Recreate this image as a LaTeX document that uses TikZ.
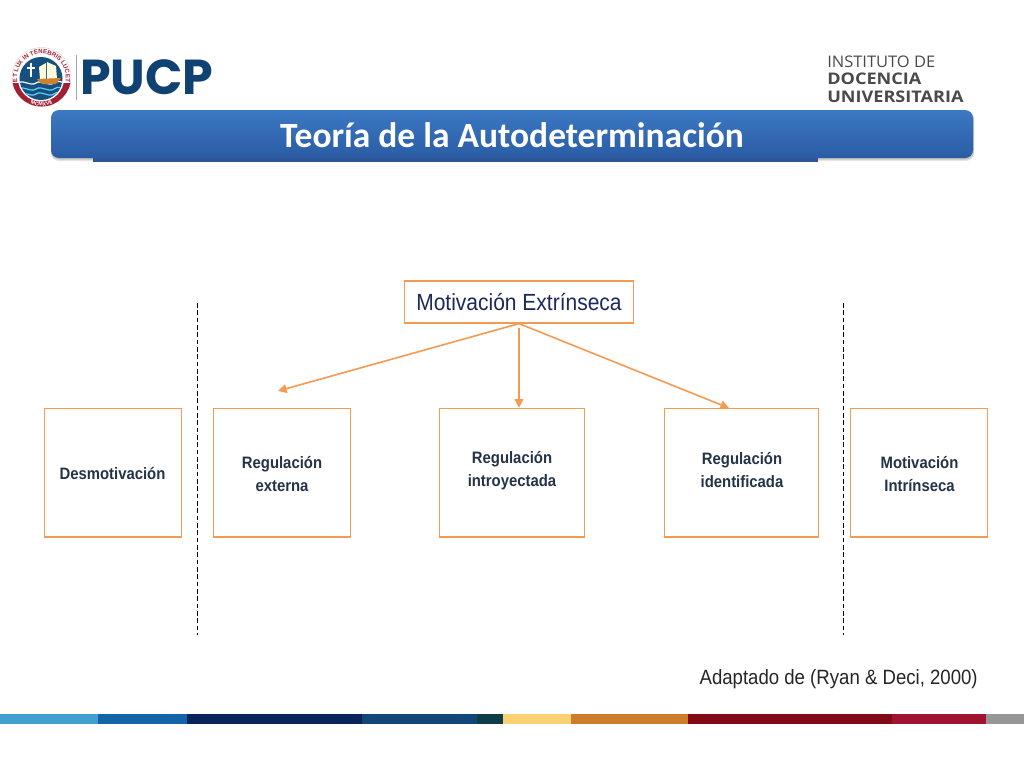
\documentclass[tikz,border=0pt]{standalone}
\usepackage{fontspec}
\usetikzlibrary{arrows.meta,decorations.text}
\setmainfont{Liberation Sans}
\newfontfamily\narrowf[FakeStretch=0.9]{Liberation Sans}
\newfontfamily\titlef{Carlito}
\newfontfamily\instf[FakeStretch=1.03]{Open Sans}
\newfontfamily\instbf[FakeStretch=1.13]{Open Sans}
\newfontfamily\logof{Poppins}
\definecolor{orangeline}{HTML}{F59A52}
\definecolor{navytext}{HTML}{1B2A5A}
\definecolor{labeltext}{HTML}{243347}
\definecolor{pucpblue}{HTML}{0F4273}
\definecolor{sealblue}{HTML}{15507F}
\definecolor{sealred}{HTML}{A31F34}
\definecolor{insttext}{HTML}{4A4A4A}
\definecolor{bartop}{HTML}{3C78C4}
\definecolor{barbot}{HTML}{2A5CA3}
\definecolor{underbar}{HTML}{2F5597}
\tikzset{
  px/.style={x=0.75pt,y=-0.75pt},
  stagebox/.style={draw=orangeline,line width=0.85pt,fill=white,inner sep=0pt},
  stagelabel/.style={inner sep=0pt,align=center,text=labeltext,font=\narrowf\bfseries\fontsize{12.4}{16.9}\selectfont},
  headbox/.style={draw=orangeline,line width=0.9pt,fill=white,inner sep=0pt,text=navytext,font=\narrowf\fontsize{17.5}{20}\selectfont},
  link/.style={draw=orangeline,line width=1.2pt,-{Triangle[length=6.5pt,width=6.5pt]}},
  divider/.style={draw=black,line width=0.6pt,dash pattern=on 3.5pt off 2pt},
}
\begin{document}
\begin{tikzpicture}[px]
\useasboundingbox (0,0) rectangle (1024,768);
\fill[white] (0,0) rectangle (1024,768);
% seal
\fill[white,draw=sealred!25,line width=0.3pt] (41.5,77) circle (29.5);
\begin{scope}
\clip (10,83) rectangle (73,110);
\fill[sealred] (41.5,77) circle (29.5);
\end{scope}
\fill[white] (41,78.5) circle (23);
\fill[sealblue] (41,78.5) circle (21.5);
\begin{scope}
\clip (41,78.5) circle (21.5);
\draw[white,line width=0.9pt] (18,83) .. controls (24,79) and (30,87) .. (36,83) .. controls (42,79) and (48,87) .. (54,83) .. controls (58,80) and (60,82) .. (66,83);
\draw[cyan!60!white,line width=0.9pt] (18,89) .. controls (24,85) and (30,93) .. (36,89) .. controls (42,85) and (48,93) .. (54,89) .. controls (58,86) and (60,88) .. (66,89);
\draw[cyan!60!white,line width=0.9pt] (18,94) .. controls (24,90) and (30,98) .. (36,94) .. controls (42,90) and (48,98) .. (54,94) .. controls (58,91) and (60,93) .. (66,94);
\end{scope}
\fill[white!85!yellow] (47,62) -- (56,66) -- (57,79) -- (47,79) -- cycle;
\fill[white!85!yellow] (39,67) -- (46,63) -- (46,79) -- (40,79) -- cycle;
\fill[brown!75!orange] (37,79) -- (61,78) -- (56,84) -- (42,84) -- cycle;
\draw[white,line width=0.9pt] (31,63) -- (31,77) (27,68) -- (35,68);
\begin{scope}[shift={(41.5,78)},x=0.75pt,y=0.75pt]
\path[decorate,decoration={text along path,text align=center,text={|\fontsize{4.6}{6}\selectfont\color{sealred}\bfseries|ET LUX IN TENEBRIS LUCET}}]
  (205:24.3) arc[start angle=205,end angle=-25,radius=24.3];
\path[decorate,decoration={text along path,text align=center,reverse path,text={|\fontsize{4}{5}\selectfont\color{white}\bfseries|MCMXVII}}]
  (-30:28) arc[start angle=-30,end angle=-150,radius=28];
\end{scope}
\draw[gray!70,line width=0.6pt] (76,55) -- (76,100);
\node[anchor=west,inner sep=0pt,text=pucpblue,font=\logof\bfseries\fontsize{36.8}{38}\selectfont] (pucp) at (80,77) {PUCP};
% institute
\node[anchor=west,inner sep=0pt,text=insttext,font=\instf\fontsize{12}{12}\selectfont] (inst1) at (827,61.5) {INSTITUTO DE};
\node[anchor=west,inner sep=0pt,text=insttext,font=\instbf\bfseries\fontsize{12}{12}\selectfont] (inst2) at (827,79) {DOCENCIA};
\node[anchor=west,inner sep=0pt,text=insttext,font=\instbf\bfseries\fontsize{12}{12}\selectfont] (inst3) at (827,97) {UNIVERSITARIA};
% title
\fill[black,opacity=0.10,rounded corners=6pt] (51,112) rectangle (974,161);
\fill[black,opacity=0.15,rounded corners=6pt] (51,111) rectangle (974,159.5);
\fill[underbar] (93,150) rectangle (818,162);
\path[rounded corners=6pt,top color=bartop,bottom color=barbot] (51,110) rectangle (973,158);
\node[text=white,font=\titlef\bfseries\fontsize{26.6}{28}\selectfont,inner sep=0pt] (title) at (512,135) {Teoría de la Autodeterminación};
% dividers
\coordinate (d1t) at (197.5,303); \coordinate (d1b) at (197.5,635);
\coordinate (d2t) at (843,303); \coordinate (d2b) at (843,635);
\draw[divider] (d1t) -- (d1b);
\draw[divider] (d2t) -- (d2b);
% boxes
\node[headbox,minimum width=171.5pt,minimum height=31.5pt] (me) at (519,302) {Motivación Extrínseca};
\node[stagebox,minimum width=103pt,minimum height=96.5pt] (des) at (113,472.7) {};
\node[stagebox,minimum width=103pt,minimum height=96.5pt] (rext) at (282,472.7) {};
\node[stagebox,minimum width=109pt,minimum height=96.5pt] (rint) at (512,472.7) {};
\node[stagebox,minimum width=115pt,minimum height=96.5pt] (rid) at (741.5,472.7) {};
\node[stagebox,minimum width=103pt,minimum height=96.5pt] (mint) at (919,472.7) {};
\node[stagelabel] (ldes) at (112.5,474) {Desmotivación};
\node[stagelabel] (lrext) at (282,474) {Regulación\\externa};
\node[stagelabel] (lrint) at (512,470.5) {Regulación\\introyectada};
\node[stagelabel] (lrid) at (742,470) {Regulación\\identificada};
\node[stagelabel] (lmint) at (919.5,474) {Motivación\hspace{7pt}\\Intrínseca};
% connectors
\coordinate (a1) at (278,391);
\coordinate (a3) at (729,408);
\draw[link] (me.south) -- (a1);
\draw[link,shorten <=3.5pt] (me.south) -- (rint.north -| me.south);
\draw[link] (me.south) -- (a3);
% footer text
\node[anchor=east,inner sep=0pt,text=black!85,font=\narrowf\fontsize{15.5}{18}\selectfont] (src) at (978,679) {Adaptado de (Ryan \& Deci, 2000)};
% stripe
\fill[color={rgb,255:red,66;green,160;blue,209}] (0,714) rectangle (98,724);
\fill[color={rgb,255:red,20;green,100;blue,170}] (98,714) rectangle (187,724);
\fill[color={rgb,255:red,10;green,35;blue,90}] (187,714) rectangle (362,724);
\fill[color={rgb,255:red,16;green,70;blue,120}] (362,714) rectangle (477,724);
\fill[color={rgb,255:red,15;green,60;blue,70}] (477,714) rectangle (503,724);
\fill[color={rgb,255:red,250;green,210;blue,115}] (503,714) rectangle (571,724);
\fill[color={rgb,255:red,205;green,125;blue,45}] (571,714) rectangle (688,724);
\fill[color={rgb,255:red,130;green,10;blue,20}] (688,714) rectangle (892,724);
\fill[color={rgb,255:red,160;green,20;blue,50}] (892,714) rectangle (986,724);
\fill[color={rgb,255:red,150;green,150;blue,150}] (986,714) rectangle (1024,724);
\end{tikzpicture}
\end{document}
